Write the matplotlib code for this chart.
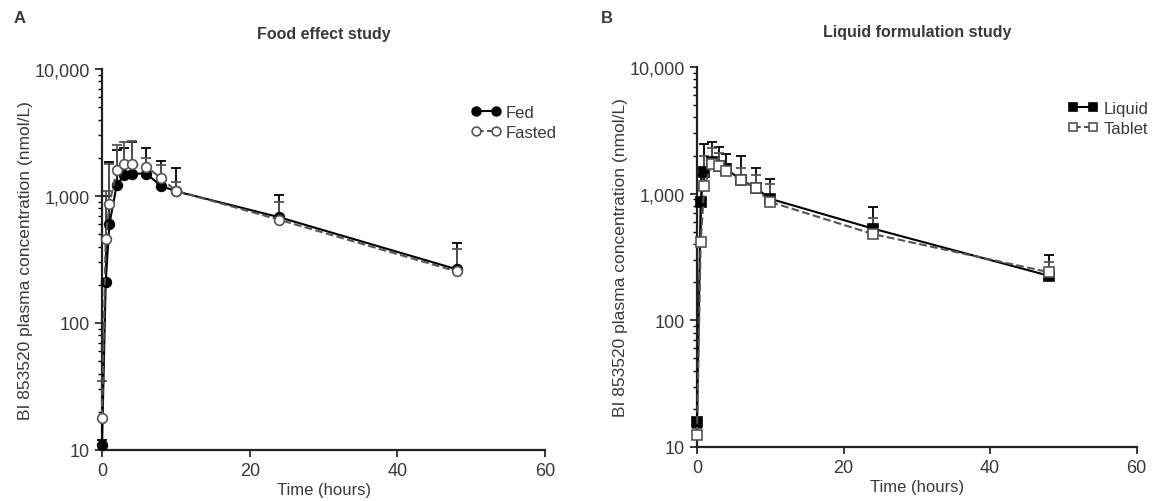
import matplotlib.pyplot as plt
from matplotlib.ticker import FixedLocator, LogLocator, NullFormatter
import numpy as np

plt.rcParams['font.family'] = ['Liberation Sans', 'DejaVu Sans']

# Panel A - food effect study
time_a = [0, 0.5, 1, 2, 3, 4, 6, 8, 10, 24, 48]
fed = [11, 210, 600, 1230, 1450, 1500, 1500, 1200, 1090, 680, 265]
fed_top = [12, 1000, 1850, 2300, 2400, 2650, 2400, 1900, 1650, 1020, 430]
fasted = [18, 460, 860, 1600, 1800, 1800, 1700, 1380, 1100, 650, 255]
fasted_top = [35, 1100, 1800, 2500, 2650, 2700, 2000, 1750, 1300, 900, 380]

# Panel B - liquid formulation study
time_b = [0, 0.5, 1, 2, 3, 4, 6, 8, 10, 24, 48]
liquid = [15.7, 860, 1480, 1790, 1660, 1560, 1290, 1110, 910, 530, 225]
liquid_top = [17, 1400, 2450, 2550, 2350, 2050, 1990, 1590, 1300, 790, 330]
tablet = [12.5, 415, 1150, 1700, 1650, 1500, 1270, 1100, 860, 480, 240]
tablet_top = [14, 1100, 2000, 2300, 2100, 1700, 1600, 1400, 1200, 640, 290]

y_ticks = [10, 100, 1000, 10000]
y_labels = ['10', '100', '1,000', '10,000']
x_ticks = [0, 20, 40, 60]

txt = '#3a3a3a'

fig = plt.figure(figsize=(11.54, 5.02), dpi=100)
ax_a = fig.add_axes([0.0884, 0.1016, 0.384, 0.759])
ax_b = fig.add_axes([0.604, 0.1076, 0.381, 0.757])


def draw_series(ax, t, mean, top, marker, filled, ls, lab):
    mean = np.array(mean)
    up = np.array(top) - mean
    err = [np.zeros_like(up), up]
    color = 'black' if filled else '#555555'
    ax.errorbar(t, mean, yerr=err, fmt='none', ecolor=color, elinewidth=1.3,
                capsize=3.5, capthick=1.3, clip_on=False, zorder=2)
    ax.plot(t, mean, linestyle=ls, color=color, lw=1.5, marker=marker,
            markersize=7 if marker == 'o' else 6.5,
            markerfacecolor='black' if filled else 'white',
            markeredgecolor=color, markeredgewidth=1.2,
            clip_on=False, zorder=3, label=lab)


def style(ax, title, leg_y):
    ax.set_yscale('log')
    ax.set_ylim(10, 10000)
    ax.set_xlim(0, 60)
    ax.yaxis.set_major_locator(FixedLocator(y_ticks))
    ax.set_yticklabels(y_labels)
    ax.yaxis.set_minor_locator(LogLocator(base=10, subs=np.arange(2, 10)))
    ax.yaxis.set_minor_formatter(NullFormatter())
    ax.set_xticks(x_ticks)
    for s in ['top', 'right']:
        ax.spines[s].set_visible(False)
    for s in ['left', 'bottom']:
        ax.spines[s].set_linewidth(1.6)
        ax.spines[s].set_color('#222222')
    ax.tick_params(which='major', direction='out', length=5, width=1.4,
                   labelsize=13, colors=txt)
    ax.tick_params(which='minor', direction='out', length=3, width=1.0)
    ax.set_xlabel('Time (hours)', fontsize=12, color=txt, labelpad=2)
    ax.set_ylabel('BI 853520 plasma concentration (nmol/L)', fontsize=12.5,
                  color=txt, labelpad=1)
    ax.set_title(title, fontsize=11.5, fontweight='bold', color=txt, pad=22)
    ax.legend(loc='upper right', bbox_to_anchor=(1.06, leg_y), frameon=False,
              numpoints=2, fontsize=12, handlelength=1.8, handletextpad=0.3,
              labelspacing=0.3, labelcolor=txt, markerscale=0.9)


draw_series(ax_a, time_a, fed, fed_top, 'o', True, '-', 'Fed')
draw_series(ax_a, time_a, fasted, fasted_top, 'o', False, '--', 'Fasted')
style(ax_a, 'Food effect study', 0.945)

draw_series(ax_b, time_b, liquid, liquid_top, 's', True, '-', 'Liquid')
draw_series(ax_b, time_b, tablet, tablet_top, 's', False, '--', 'Tablet')
style(ax_b, 'Liquid formulation study', 0.95)

fig.text(0.012, 0.955, 'A', fontsize=12, fontweight='bold', color=txt)
fig.text(0.521, 0.955, 'B', fontsize=12, fontweight='bold', color=txt)

fig.savefig('out.png', dpi=100)
